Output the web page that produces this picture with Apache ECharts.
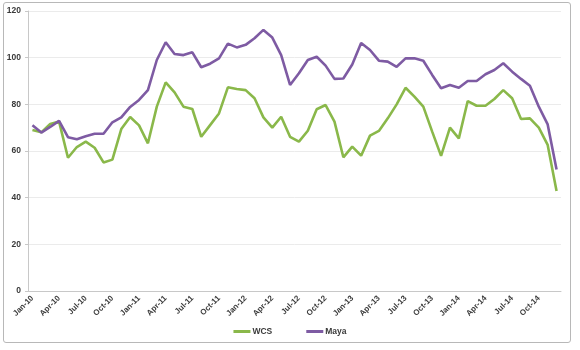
<!DOCTYPE html>
<html><head><meta charset="utf-8">
<script src="https://cdn.jsdelivr.net/npm/echarts@6/dist/echarts.min.js"></script>
<style>html,body{margin:0;padding:0;background:#fff}
#frame{position:absolute;left:3px;top:2px;width:568px;height:341px;border:1px solid #b8b8b8;border-radius:3px;box-sizing:border-box}
#c{position:absolute;left:0;top:0;width:580px;height:350px}</style>
</head><body><div id="frame"></div><div id="c"></div>
<script>
const months = ["Jan","Feb","Mar","Apr","May","Jun","Jul","Aug","Sep","Oct","Nov","Dec"];
const years = ["10","11","12","13","14"];
const categories = [];
years.forEach(y => months.forEach(m => categories.push(m + "-" + y)));
const wcs = [69,68,71.6,72.6,57.1,61.7,64,61.4,55.1,56.3,69.4,74.6,
  71,63.3,79,89.4,85.1,79,78,66.1,71.1,76.1,87.3,86.6,
  86.1,82.6,74.4,70,74.7,66.1,64,68.7,77.9,79.7,72.6,57.3,
  61.9,58,66.6,68.6,74,80,87.1,83.3,79,68.3,57.9,70,
  65.4,81.4,79.4,79.4,82.3,86.1,82.6,73.7,74,70,62.6,42.9];
const maya = [71,67.9,70.3,72.9,65.9,65,66.3,67.4,67.4,72.3,74.4,78.9,
  81.9,86.1,99,106.6,101.6,101.1,102.3,95.9,97.4,99.7,106,104.4,
  105.5,108.3,111.9,108.6,101.1,88.3,93.3,99,100.4,96.6,90.9,91.1,
  97.1,106.3,103.3,98.7,98.3,96.1,99.7,99.7,98.7,92.6,86.9,88.3,
  87.1,90,90,92.9,94.7,97.6,94,90.9,88,79,71.4,52.1];
const yMin = 0, yMax = 120, yStep = 20;

const chart = echarts.init(document.getElementById('c'), null, {renderer:'canvas'});
const txt = {color:'#3a3a3a', fontFamily:'Liberation Sans, Arial, sans-serif', fontWeight:'bold', fontSize:8.5};
chart.setOption({
  animation:false,
  grid:{left:28,right:19,top:11,bottom:59,containLabel:false},
  legend:{bottom:9,left:'center',itemWidth:17,itemHeight:3,itemGap:34,icon:'rect',
    textStyle:Object.assign({},txt,{fontSize:8.5,padding:[0,0,0,-3]}),data:['WCS','Maya']},
  xAxis:{type:'category',data:categories,boundaryGap:true,
    axisLine:{lineStyle:{color:'#c8c8c8',width:1}},
    axisTick:{interval:2,length:4,lineStyle:{color:'#c8c8c8'}},
    axisLabel:Object.assign({},txt,{interval:2,rotate:45,margin:6,fontSize:8})},
  yAxis:{type:'value',min:yMin,max:yMax,interval:yStep,
    axisLine:{show:true,lineStyle:{color:'#c8c8c8',width:1}},
    axisTick:{show:true,length:3,lineStyle:{color:'#c8c8c8'}},
    splitLine:{lineStyle:{color:'#ebebeb',width:1}},
    axisLabel:Object.assign({},txt,{margin:7})},
  series:[
    {name:'WCS',type:'line',data:wcs,symbol:'none',lineStyle:{color:'#8ab84a',width:2.6},itemStyle:{color:'#8ab84a'}},
    {name:'Maya',type:'line',data:maya,symbol:'none',lineStyle:{color:'#7e5ba3',width:2.6},itemStyle:{color:'#7e5ba3'}}
  ]
});
</script></body></html>
